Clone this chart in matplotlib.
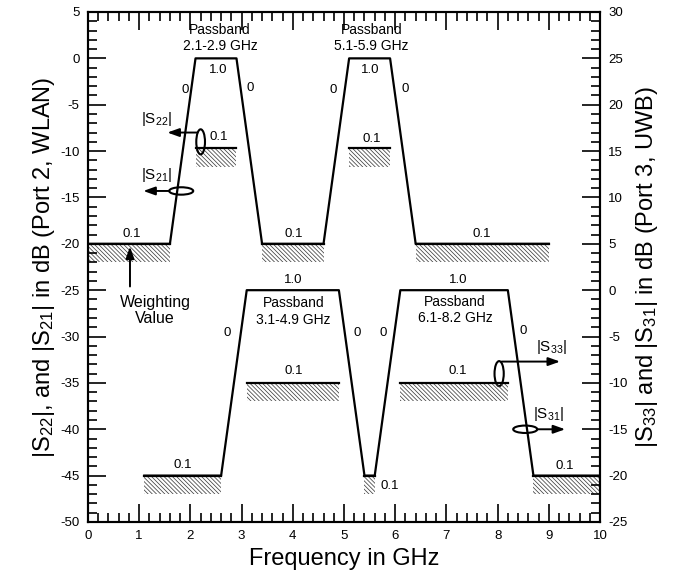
import matplotlib
matplotlib.use('Agg')
import matplotlib.pyplot as plt
from matplotlib.patches import Ellipse
from matplotlib.ticker import MultipleLocator

plt.rcParams['font.family'] = ['Liberation Sans', 'DejaVu Sans']
plt.rcParams['mathtext.default'] = 'regular'
plt.rcParams['axes.unicode_minus'] = False
plt.rcParams['hatch.linewidth'] = 0.55

# WLAN port (left axis): |S22| / |S21| mask
wlan_freq = [0.0, 1.6, 2.1, 2.9, 3.4, 4.6, 5.1, 5.9, 6.4, 9.0]
wlan_db = [-20, -20, 0, 0, -20, -20, 0, 0, -20, -20]

# UWB port (right axis): |S33| / |S31| mask
uwb_freq = [1.1, 2.6, 3.1, 4.9, 5.4, 5.6, 6.1, 8.2, 8.7, 10.0]
uwb_db = [-20, -20, 0, 0, -20, -20, 0, 0, -20, -20]

# weighted bands (hatched below the level)
wlan_band_start = [0.0, 2.1, 3.4, 5.1, 6.4]
wlan_band_stop = [1.6, 2.9, 4.6, 5.9, 9.0]
wlan_band_level = [-20, -9.7, -20, -9.7, -20]
uwb_band_start = [1.1, 3.1, 5.4, 6.1, 8.7]
uwb_band_stop = [2.6, 4.9, 5.6, 8.2, 10.0]
uwb_band_level = [-20, -10, -20, -10, -20]
band_depth = 2.0

# weighting values (left axis coordinates)
weight_txt = ['0.1', '1.0', '0', '0', '0.1', '0.1', '0', '1.0', '0', '0.1', '0.1',
              '1.0', '0', '0', '0.1', '0.1', '0', '1.0', '0', '0.1', '0.1', '0.1']
weight_x = [0.85, 2.55, 1.89, 3.16, 2.55, 4.01, 4.79, 5.51, 6.19, 5.54, 7.69,
            4.01, 2.71, 5.25, 4.01, 1.86, 5.77, 7.23, 8.50, 7.23, 5.89, 9.32]
weight_y = [-18.9, -1.3, -3.4, -3.2, -8.5, -18.9, -3.4, -1.3, -3.3, -8.7, -18.9,
            -23.9, -29.6, -29.6, -33.7, -43.9, -29.6, -23.9, -29.4, -33.7, -46.1, -44.0]

passband_txt = ['Passband\n2.1-2.9 GHz', 'Passband\n5.1-5.9 GHz',
                'Passband\n3.1-4.9 GHz', 'Passband\n6.1-8.2 GHz']
passband_x = [2.58, 5.54, 4.01, 7.17]
passband_y = [2.2, 2.2, -27.3, -27.1]

fig = plt.figure(figsize=(6.77, 5.74), dpi=100)
ax = fig.add_axes([88 / 677, 1 - 522 / 574, 512 / 677, 510 / 574])
ax2 = ax.twinx()

ax.plot(wlan_freq, wlan_db, color='black', lw=1.6, zorder=3)
ax2.plot(uwb_freq, uwb_db, color='black', lw=1.6, zorder=3)

for a, starts, stops, levels in [(ax, wlan_band_start, wlan_band_stop, wlan_band_level),
                                  (ax2, uwb_band_start, uwb_band_stop, uwb_band_level)]:
    for x0, x1, lv in zip(starts, stops, levels):
        a.fill_between([x0, x1], [lv, lv], [lv - band_depth, lv - band_depth],
                       facecolor='none', edgecolor='#404040', hatch='\\' * 8,
                       linewidth=0, zorder=1)
        a.plot([x0, x1], [lv, lv], color='black', lw=1.6, zorder=3)

for t, x, y in zip(weight_txt, weight_x, weight_y):
    ax.text(x, y, t, ha='center', va='center', fontsize=9.5)
for t, x, y in zip(passband_txt, passband_x, passband_y):
    ax.text(x, y, t, ha='center', va='center', fontsize=10, linespacing=1.2)

# port markers
ellipses = [(2.2, -9.0, 0.17, 2.7), (1.82, -14.3, 0.47, 0.8),
            (8.03, -34.0, 0.18, 2.7), (8.54, -40.0, 0.47, 0.8)]
for cx, cy, w, h in ellipses:
    ax.add_patch(Ellipse((cx, cy), w, h, facecolor='none', edgecolor='black', lw=1.5, zorder=4))

arw = dict(arrowstyle='-|>,head_length=0.7,head_width=0.25', color='black', lw=1.4,
           shrinkA=0, shrinkB=0)
ax.annotate('', xy=(1.55, -8.0), xytext=(2.14, -8.0), arrowprops=arw)
ax.annotate('', xy=(1.08, -14.3), xytext=(1.59, -14.3), arrowprops=arw)
ax.annotate('', xy=(9.22, -32.7), xytext=(8.08, -32.7), arrowprops=arw)
ax.annotate('', xy=(9.32, -40.0), xytext=(8.77, -40.0), arrowprops=arw)
ax.annotate('', xy=(0.82, -20.3), xytext=(0.82, -24.6), arrowprops=arw)

ax.text(1.34, -6.5, '|S$_{22}$|', ha='center', va='center', fontsize=11)
ax.text(1.34, -12.6, '|S$_{21}$|', ha='center', va='center', fontsize=11)
ax.text(9.06, -31.1, '|S$_{33}$|', ha='center', va='center', fontsize=11)
ax.text(8.99, -38.3, '|S$_{31}$|', ha='center', va='center', fontsize=11)
ax.text(1.31, -27.2, 'Weighting\nValue', ha='center', va='center', fontsize=11.5,
        linespacing=1.15)

# axes
ax.set_xlim(0, 10)
ax.set_ylim(-50, 5)
ax2.set_ylim(-25, 30)
ax.xaxis.set_major_locator(MultipleLocator(1))
ax.xaxis.set_minor_locator(MultipleLocator(0.2))
for a in (ax, ax2):
    a.yaxis.set_major_locator(MultipleLocator(5))
    a.yaxis.set_minor_locator(MultipleLocator(1))
    a.tick_params(which='both', direction='in', labelsize=9.5, width=1.2, pad=6)
    a.tick_params(which='major', length=13)
    a.tick_params(which='minor', length=6.5)
ax.tick_params(which='both', top=True, right=False)
for s in ax.spines.values():
    s.set_linewidth(1.5)
for s in ax2.spines.values():
    s.set_linewidth(1.5)

ax.set_xlabel('Frequency in GHz', fontsize=17, labelpad=4)
ax.set_ylabel('|S$_{22}$|, and |S$_{21}$| in dB (Port 2, WLAN)', fontsize=17, labelpad=2.5)
ax2.set_ylabel('|S$_{33}$| and |S$_{31}$| in dB (Port 3, UWB)', fontsize=17, labelpad=4.5)

fig.savefig('out.png', dpi=100)
